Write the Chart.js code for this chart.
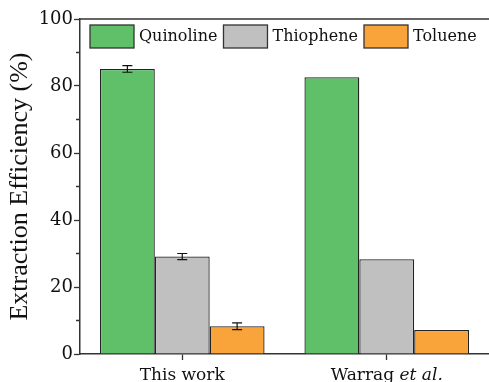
<!DOCTYPE html>
<html>
<head>
<meta charset="utf-8">
<script src="https://cdn.jsdelivr.net/npm/chart.js@4.4.1/dist/chart.umd.min.js"></script>
<style>
  html, body { margin: 0; padding: 0; background: #fff; }
  #wrap { width: 489px; height: 382px; }
</style>
</head>
<body>
<div id="wrap"><canvas id="chart"></canvas></div>
<script>
// data
const groups = ["This work", "Warrag et al."];
const quinoline = [85.1, 82.6];
const thiophene = [29.1, 28.3];
const toluene = [8.3, 7.2];
const quinolineErr = [1.0, 0];
const thiopheneErr = [0.9, 0];
const tolueneErr = [1.0, 0];
const yTicks = [0, 20, 40, 60, 80, 100];
const yMinor = [10, 30, 50, 70, 90];

const serif = "'DejaVu Serif', serif";
const titleFont = "'Liberation Serif', serif";
const errs = [quinolineErr, thiopheneErr, tolueneErr];

// error bars, top frame, minor ticks, legend inside the plot, x labels (italic "et al.")
const extras = {
  id: "extras",
  afterDatasetsDraw(chart) {
    const { ctx, chartArea, scales } = chart;
    const y = scales.y;
    ctx.save();
    ctx.strokeStyle = "#111";
    ctx.lineWidth = 1.2;
    chart.data.datasets.forEach((ds, di) => {
      const meta = chart.getDatasetMeta(di);
      meta.data.forEach((bar, i) => {
        const e = errs[di][i];
        if (!e) return;
        const v = ds.data[i];
        const top = y.getPixelForValue(v + e);
        const bot = y.getPixelForValue(v - e);
        ctx.beginPath();
        ctx.moveTo(bar.x, top); ctx.lineTo(bar.x, bot);
        ctx.moveTo(bar.x - 5, top); ctx.lineTo(bar.x + 5, top);
        ctx.moveTo(bar.x - 5, bot); ctx.lineTo(bar.x + 5, bot);
        ctx.stroke();
      });
    });

    // top frame line
    ctx.strokeStyle = "#333";
    ctx.lineWidth = 1.5;
    ctx.beginPath();
    ctx.moveTo(chartArea.left, chartArea.top);
    ctx.lineTo(chartArea.right, chartArea.top);
    ctx.stroke();

    // short minor ticks
    ctx.lineWidth = 1.3;
    ctx.beginPath();
    yMinor.forEach((v) => {
      const py = y.getPixelForValue(v);
      ctx.moveTo(chartArea.left - 4, py);
      ctx.lineTo(chartArea.left, py);
    });
    ctx.stroke();

    // legend row
    ctx.font = "16px " + serif;
    ctx.textAlign = "left";
    ctx.textBaseline = "middle";
    let lx = chartArea.left + 10;
    const ly = chartArea.top + 6;
    chart.data.datasets.forEach((ds) => {
      ctx.fillStyle = ds.backgroundColor;
      ctx.fillRect(lx, ly, 44, 23);
      ctx.strokeStyle = "#333";
      ctx.lineWidth = 1.3;
      ctx.strokeRect(lx, ly, 44, 23);
      ctx.fillStyle = "#111";
      ctx.fillText(ds.label, lx + 49, ly + 12);
      lx += 49 + ctx.measureText(ds.label).width + 6;
    });

    // category labels
    const x = scales.x;
    const base = chartArea.bottom + 26;
    ctx.fillStyle = "#111";
    ctx.textBaseline = "alphabetic";
    groups.forEach((g, i) => {
      const cx = x.getPixelForValue(i);
      const m = g.match(/^(.*?)(et al\.)$/);
      if (m) {
        ctx.font = "17px " + serif;
        const w1 = ctx.measureText(m[1]).width;
        ctx.font = "italic 17px " + serif;
        const w2 = ctx.measureText(m[2]).width;
        const sx = cx - (w1 + w2) / 2;
        ctx.textAlign = "left";
        ctx.font = "17px " + serif;
        ctx.fillText(m[1], sx, base);
        ctx.font = "italic 17px " + serif;
        ctx.fillText(m[2], sx + w1, base);
      } else {
        ctx.font = "17px " + serif;
        ctx.textAlign = "center";
        ctx.fillText(g, cx, base);
      }
    });
    ctx.restore();
  }
};

const barStyle = { borderColor: "#222", borderWidth: 1.3, barPercentage: 1, categoryPercentage: 0.805 };

new Chart(document.getElementById("chart"), {
  type: "bar",
  data: {
    labels: groups,
    datasets: [
      { label: "Quinoline", data: quinoline, backgroundColor: "#60c06a", ...barStyle },
      { label: "Thiophene", data: thiophene, backgroundColor: "#c0c0c0", ...barStyle },
      { label: "Toluene", data: toluene, backgroundColor: "#f9a43a", ...barStyle }
    ]
  },
  options: {
    responsive: true,
    maintainAspectRatio: false,
    animation: false,
    layout: { padding: { top: 19, right: 0, left: 0, bottom: 0 } },
    plugins: {
      tooltip: { enabled: false },
      legend: { display: false }
    },
    scales: {
      x: {
        grid: { display: true, offset: false, drawOnChartArea: false, tickLength: 6, tickColor: "#333", tickWidth: 1.3 },
        border: { color: "#333", width: 1.5 },
        ticks: { display: false },
        afterFit(s) { s.height = 28; }
      },
      y: {
        min: 0,
        max: 100,
        grid: {
          drawOnChartArea: false,
          tickLength: 6,
          tickWidth: 1.3,
          tickColor: (c) => (yTicks.includes(c.tick.value) ? "#333" : "rgba(0,0,0,0)")
        },
        border: { color: "#333", width: 1.5 },
        afterBuildTicks(s) {
          const t = [];
          for (let v = 0; v <= 100; v += 10) t.push({ value: v });
          s.ticks = t;
        },
        ticks: {
          color: "#111",
          padding: 1,
          font: { family: serif, size: 18 },
          callback: (v) => (yTicks.includes(v) ? v : "")
        },
        title: {
          display: true,
          text: "Extraction Efficiency (%)",
          color: "#111",
          font: { family: titleFont, size: 26 },
          padding: { top: 5, bottom: 0 }
        },
        afterFit(s) { s.width = 80; }
      }
    }
  },
  plugins: [extras]
});
</script>
</body>
</html>
